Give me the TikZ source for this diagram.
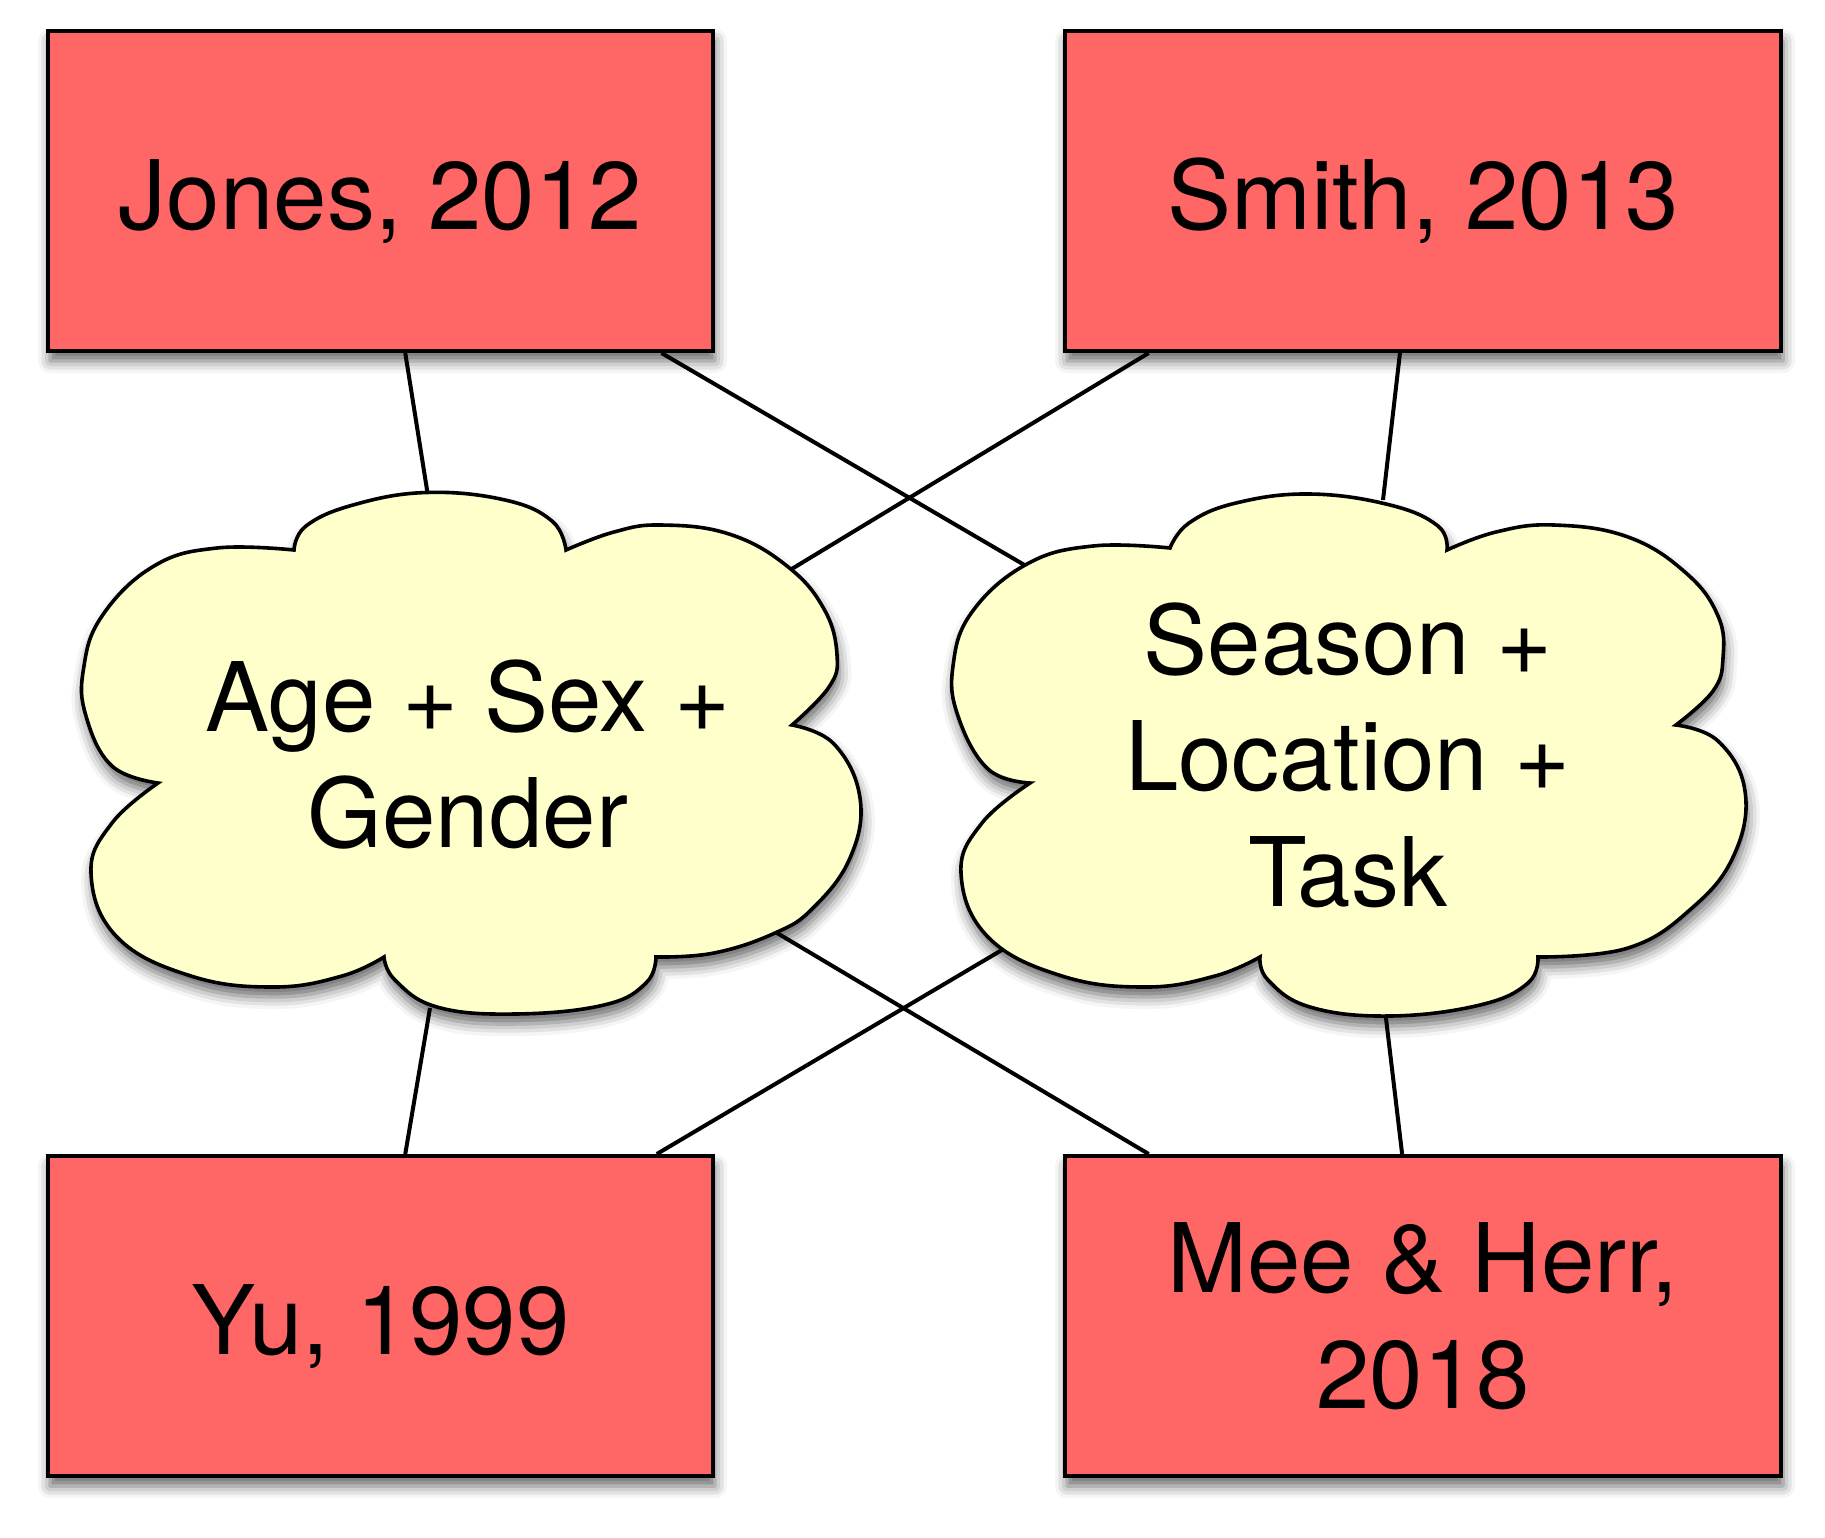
\documentclass[tikz,border=0pt]{standalone}
\usepackage{fontspec}
\setmainfont{TeX Gyre Heros}
\usetikzlibrary{shadows.blur,calc}
\definecolor{boxred}{RGB}{255,102,102}
\definecolor{cloudyellow}{RGB}{255,255,204}
\newcommand\bigfont{\fontsize{48}{58}\selectfont}
\tikzset{
  softshadow/.style={blur shadow={shadow xshift=1pt, shadow yshift=-5pt, shadow blur radius=6pt, shadow opacity=60}},
  refbox/.style={draw=black, line width=2pt, fill=boxred, minimum height=160pt,
    inner sep=0pt, font=\bigfont, align=center, softshadow},
  onelinetext/.style={text height=38pt, text depth=0pt},
  narrowbox/.style={refbox, minimum width=332.5pt},
  widebox/.style={refbox, minimum width=358pt},
  cloudshape/.style={draw=black, line width=1.8pt, fill=cloudyellow, softshadow},
  cloudtext/.style={font=\bigfont, align=center, inner sep=0pt},
  link/.style={line width=2pt},
  puff/.style={smooth, tension=0.7}
}
\begin{document}
\begin{tikzpicture}[x=0.5pt,y=-0.5pt]
\useasboundingbox (0,0) rectangle (1825,1537);
% boxes
\node[narrowbox, onelinetext] (jones) at (380.5,191) {Jones, 2012};
\node[widebox, onelinetext] (smith) at (1423,191) {Smith, 2013};
\node[narrowbox, onelinetext] (yu) at (380.5,1316) {Yu, 1999};
\node[widebox] (mee) at (1423,1316) {Mee \& Herr,\\2018};
% cloud attachment points
\coordinate (lcN) at (428,496);
\coordinate (lcNE) at (790,570);
\coordinate (lcSE) at (772,930);
\coordinate (lcS) at (430,1008);
\coordinate (rcN) at (1383,500);
\coordinate (rcNW) at (1033,570);
\coordinate (rcSW) at (1012,944);
\coordinate (rcS) at (1385,1010);
% connectors
\draw[link] ($(jones.south west)!0.537!(jones.south east)$) -- (lcN);
\draw[link] ($(jones.south west)!0.920!(jones.south east)$) -- (rcNW);
\draw[link] ($(smith.south west)!0.119!(smith.south east)$) -- (lcNE);
\draw[link] ($(smith.south west)!0.468!(smith.south east)$) -- (rcN);
\draw[link] (lcS) -- ($(yu.north west)!0.537!(yu.north east)$);
\draw[link] (lcSE) -- ($(mee.north west)!0.119!(mee.north east)$);
\draw[link] (rcSW) -- ($(yu.north west)!0.913!(yu.north east)$);
\draw[link] (rcS) -- ($(mee.north west)!0.471!(mee.north east)$);
% left cloud
\path[cloudshape]
  plot[puff] coordinates {(294,550) (306,526) (353,505) (426,492.5) (505,500) (552,521) (566,550)}
  -- plot[puff] coordinates {(566,550) (614,532) (661,525) (729,534) (787,566) (824,609) (837,655) (829,687) (792,725)}
  -- plot[puff] coordinates {(792,725) (834,744) (860,798) (850,858) (813,908) (775,933) (714,953) (656,957)}
  -- plot[puff] coordinates {(656,957) (646,983) (604,1005) (515,1014) (437,1007) (395,980) (384,957)}
  -- plot[puff] coordinates {(384,957) (342,976) (274,987) (191,976) (117,937) (91,873) (112,823) (158,783)}
  -- plot[puff] coordinates {(158,783) (112,766) (86,716) (83.5,669) (102,616) (154,566) (217,548) (294,550)}
  -- cycle;
% right cloud
\path[cloudshape]
  plot[puff] coordinates {(1170,548) (1189,523) (1236,503) (1310,494) (1390,505) (1438,526) (1447,550)}
  -- plot[puff] coordinates {(1447,550) (1496,532) (1554,525) (1628,537) (1686,573) (1718,616) (1723,658) (1713,691) (1676,725)}
  -- plot[puff] coordinates {(1676,725) (1718,741) (1745,791) (1734,855) (1692,908) (1628,948) (1538,957)}
  -- plot[puff] coordinates {(1538,957) (1528,983) (1480,1005) (1390,1016) (1310,1007) (1268,980) (1260,957)}
  -- plot[puff] coordinates {(1260,957) (1215,976) (1146,987) (1062,976) (988,937) (961,873) (982,823) (1030,783)}
  -- plot[puff] coordinates {(1030,783) (988,769) (958,716) (953,666) (972,612) (1027,564) (1093,546) (1170,548)}
  -- cycle;
% cloud texts
\node[cloudtext] (lc) at (468,754) {Age + Sex +\\Gender};
\node[cloudtext] (rc) at (1348,755) {Season +\\Location +\\Task};
\end{tikzpicture}
\end{document}
